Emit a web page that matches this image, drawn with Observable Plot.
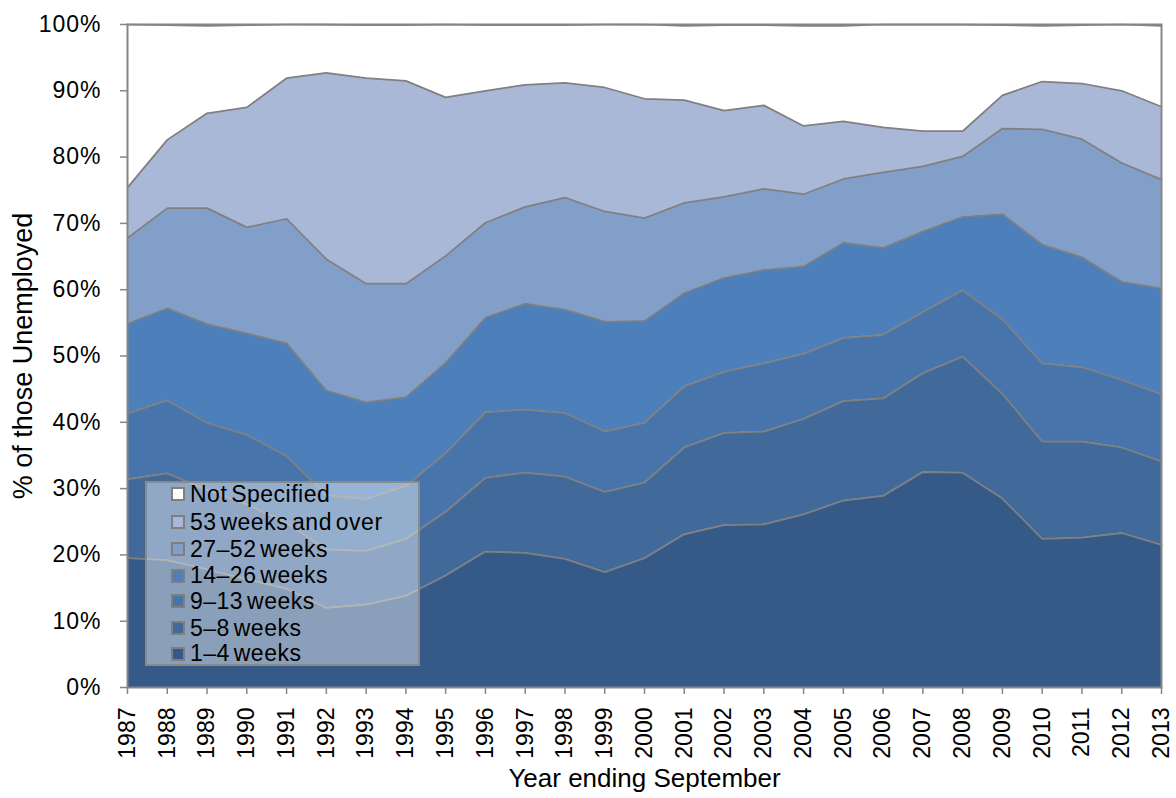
<!DOCTYPE html>
<html>
<head>
<meta charset="utf-8">
<script src="https://cdn.jsdelivr.net/npm/d3@7"></script>
<script src="https://cdn.jsdelivr.net/npm/@observablehq/plot@0.6"></script>
<style>
  body { margin: 0; background: #fff; }
  #wrap { position: relative; width: 1176px; height: 798px; font-family: "Liberation Sans", Arial, sans-serif; }
  #legend { position: absolute; left: 145px; top: 481px; width: 275px; height: 185px; box-sizing: border-box;
            background: rgba(255,255,255,0.42); border: 2px solid #8a8a8a; }
  .row { position: absolute; left: 24px; height: 26px; display: flex; align-items: center;
         font-size: 23px; letter-spacing: 0.5px; word-spacing: -3px; color: #000; white-space: nowrap; }
  .sw { width: 10px; height: 10px; border: 2px solid #7f7f7f; margin-right: 5px; flex: none; }
  g[aria-label="y-axis tick label"] text { letter-spacing: 1px; }
</style>
</head>
<body>
<div id="wrap"></div>
<script>
// ---- Data (cumulative top boundary of each band, % of those unemployed) ----
const years = [1987,1988,1989,1990,1991,1992,1993,1994,1995,1996,1997,1998,1999,2000,
               2001,2002,2003,2004,2005,2006,2007,2008,2009,2010,2011,2012,2013];

const seriesNames = ["1–4 weeks","5–8 weeks","9–13 weeks","14–26 weeks","27–52 weeks","53 weeks and over","Not Specified"];
const seriesColors = ["#365a87","#416a9b","#4774aa","#4d7fba","#829fc9","#a9b8d6","#ffffff"];

const top1to4 = [19.5,19.2,17.8,16.3,14.9,12.0,12.5,13.8,16.9,20.5,20.3,19.4,17.4,19.5,
                 23.1,24.5,24.6,26.1,28.2,28.9,32.5,32.4,28.5,22.4,22.6,23.3,21.5];
const top5to8 = [31.4,32.3,29.8,27.6,24.8,20.8,20.6,22.4,26.5,31.6,32.4,31.8,29.5,30.9,
                 36.2,38.4,38.6,40.5,43.2,43.6,47.4,49.9,44.3,37.1,37.1,36.2,34.1];
const top9to13 = [41.3,43.3,39.9,38.1,34.9,29.0,28.4,30.4,35.3,41.5,41.9,41.4,38.6,39.9,
                  45.4,47.6,48.9,50.3,52.7,53.2,56.6,59.9,55.5,48.9,48.3,46.4,44.2];
const top14to26 = [54.9,57.2,54.8,53.4,51.9,44.8,43.0,43.8,49.0,55.8,57.9,57.0,55.2,55.3,
                   59.5,61.8,63.0,63.5,67.1,66.3,68.8,71.0,71.4,66.8,64.9,61.2,60.2];
const top27to52 = [67.8,72.3,72.3,69.4,70.7,64.6,60.9,60.9,65.1,70.1,72.5,73.9,71.8,70.8,
                   73.1,74.0,75.2,74.4,76.7,77.7,78.6,80.1,84.3,84.2,82.7,79.1,76.6];
const top53plus = [75.4,82.6,86.6,87.5,91.9,92.7,91.9,91.5,89.0,90.0,90.9,91.2,90.5,88.8,
                   88.6,87.0,87.8,84.7,85.4,84.5,83.9,83.9,89.3,91.4,91.1,90.0,87.6];
const topNotSpec = [100,99.9,99.8,99.9,100,100,99.9,99.9,100,99.9,99.9,99.9,100,100,
                    99.8,99.9,99.9,99.8,99.8,100,100,100,99.9,99.8,99.9,100,99.8];

const yTicks = [0,10,20,30,40,50,60,70,80,90,100];

// ---- Build table ----
const tops = [top1to4, top5to8, top9to13, top14to26, top27to52, top53plus, topNotSpec];
const rows = [];
tops.forEach((arr, s) => {
  years.forEach((yr, i) => {
    rows.push({ year: yr, series: seriesNames[s], lo: s === 0 ? 0 : tops[s-1][i], hi: arr[i] });
  });
});

const chart = Plot.plot({
  width: 1176,
  height: 798,
  marginLeft: 127,
  marginRight: 15,
  marginTop: 24,
  marginBottom: 111,
  style: { fontFamily: "'Liberation Sans', Arial, sans-serif", color: "#000", background: "#fff", overflow: "visible" },
  x: { domain: [1987, 2013] },
  y: { domain: [0, 100] },
  color: { domain: seriesNames, range: seriesColors },
  marks: [
    Plot.areaY(rows, { x: "year", y1: "lo", y2: "hi", z: "series", fill: "series", curve: "linear" }),
    Plot.lineY(rows, { x: "year", y: "hi", z: "series", stroke: "#808080", strokeWidth: 1.75 }),
    Plot.frame({ stroke: "#868686", strokeWidth: 2 }),
    Plot.axisY({ ticks: yTicks, tickFormat: d => d + "%", tickSize: 7, tickPadding: 19, fontSize: 23,
                 stroke: "#868686", strokeWidth: 1.5, fill: "#000", label: null }),
    Plot.axisX({ ticks: years, tickFormat: d => String(d), tickRotate: -90, tickSize: 7, tickPadding: 13,
                 fontSize: 23, stroke: "#868686", strokeWidth: 1.5, fill: "#000", label: null }),
    Plot.text(["Year ending September"], { frameAnchor: "bottom", dy: 99, fontSize: 26, fill: "#000", textAnchor: "middle" }),
    Plot.text(["% of those Unemployed"], { frameAnchor: "left", dx: -104, rotate: -90, fontSize: 27, fill: "#000", textAnchor: "middle" })
  ]
});

const wrap = document.getElementById("wrap");
wrap.appendChild(chart);

// ---- Legend (overlay inside plot area) ----
const legend = document.createElement("div");
legend.id = "legend";
const legendOrder = seriesNames.slice().reverse();
const rowTops = [-2, 26, 53, 79.5, 105, 132, 157.5];
legendOrder.forEach((name, i) => {
  const r = document.createElement("div");
  r.className = "row";
  r.style.top = rowTops[i] + "px";
  const sw = document.createElement("span");
  sw.className = "sw";
  sw.style.background = seriesColors[seriesNames.indexOf(name)];
  const t = document.createElement("span");
  t.textContent = name;
  r.appendChild(sw);
  r.appendChild(t);
  legend.appendChild(r);
});
wrap.appendChild(legend);
</script>
</body>
</html>
